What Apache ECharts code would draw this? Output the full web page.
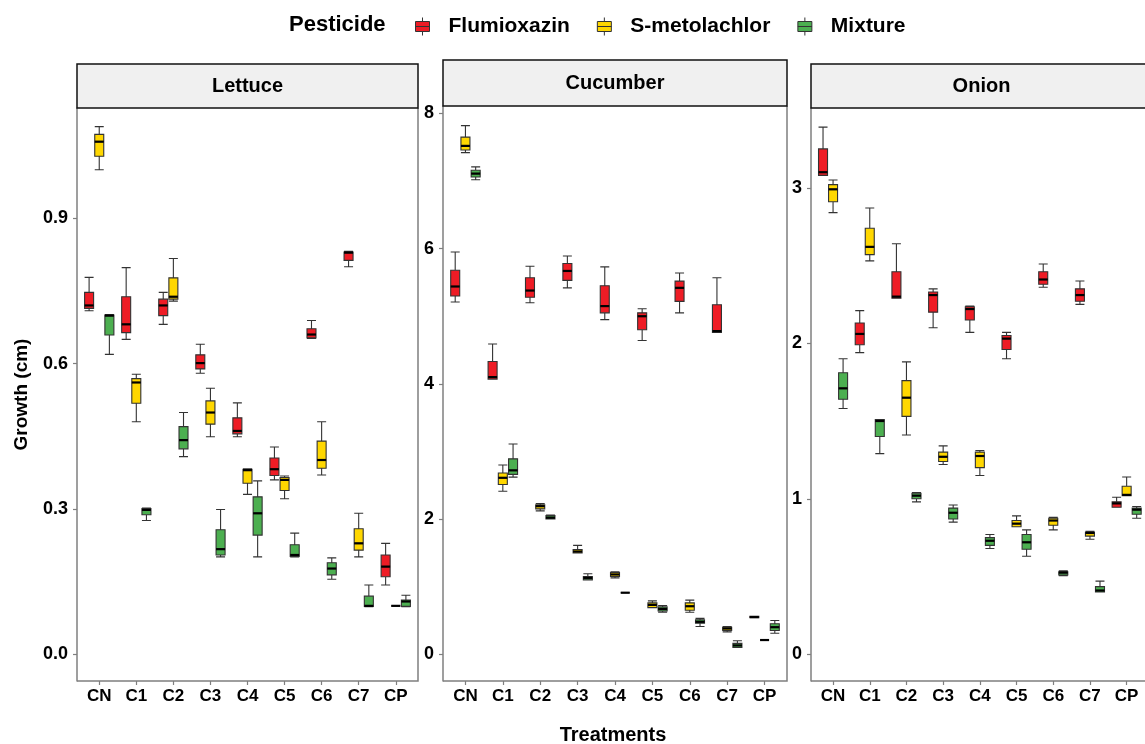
<!DOCTYPE html>
<html><head><meta charset="utf-8">
<script src="https://cdn.jsdelivr.net/npm/echarts@6/dist/echarts.min.js"></script>
<style>html,body{margin:0;padding:0;background:#fff}#c{width:1145px;height:744px}</style>
</head><body><div id="c"></div>
<script>
// ---------- data ----------
const treatments = ['CN','C1','C2','C3','C4','C5','C6','C7','CP'];
const pesticides = ['Flumioxazin','S-metolachlor','Mixture'];
const crops = ['Lettuce','Cucumber','Onion'];

const lettuceTicks = [0, 0.3, 0.6, 0.9];
const cucumberTicks = [0, 2, 4, 6, 8];
const onionTicks = [0, 1, 2, 3];

// each entry: [min, Q1, median, Q3, max]
const lettuceFlumioxazin = [[0.709,0.714,0.720,0.747,0.778],[0.650,0.664,0.681,0.738,0.798],[0.681,0.699,0.720,0.733,0.747],[0.580,0.589,0.601,0.618,0.640],[0.449,0.455,0.461,0.488,0.519],[0.360,0.369,0.382,0.405,0.428],[0.652,0.653,0.660,0.672,0.689],[0.800,0.813,0.829,0.830,0.832],[0.143,0.160,0.181,0.205,0.229]];
const lettuceSmetolachlor = [[1.000,1.028,1.058,1.073,1.089],[0.480,0.518,0.561,0.569,0.578],[0.729,0.733,0.738,0.777,0.817],[0.449,0.475,0.499,0.523,0.549],[0.330,0.353,0.380,0.382,0.383],[0.321,0.338,0.360,0.365,0.368],[0.370,0.384,0.401,0.440,0.480],[0.201,0.215,0.229,0.259,0.291],[0.100,0.100,0.100,0.100,0.100]];
const lettuceMixture = [[0.619,0.659,0.699,0.700,0.701],[0.276,0.288,0.298,0.301,0.302],[0.408,0.424,0.442,0.470,0.499],[0.201,0.205,0.217,0.257,0.299],[0.201,0.246,0.291,0.325,0.358],[0.201,0.202,0.205,0.226,0.250],[0.155,0.164,0.177,0.189,0.199],[0.098,0.099,0.100,0.120,0.143],[0.098,0.099,0.109,0.112,0.122]];

const cucumberFlumioxazin = [[5.21,5.30,5.44,5.68,5.95],[4.07,4.07,4.10,4.33,4.59],[5.20,5.28,5.38,5.57,5.74],[5.42,5.53,5.67,5.78,5.89],[4.95,5.05,5.15,5.45,5.73],[4.64,4.80,5.00,5.05,5.11],[5.05,5.22,5.42,5.52,5.64],[4.76,4.76,4.78,5.17,5.57],[0.54,0.54,0.55,0.56,0.56]];
const cucumberSmetolachlor = [[7.42,7.46,7.52,7.65,7.82],[2.41,2.51,2.61,2.68,2.80],[2.12,2.15,2.19,2.21,2.23],[1.50,1.50,1.52,1.55,1.61],[1.13,1.15,1.18,1.21,1.22],[0.69,0.69,0.73,0.76,0.79],[0.62,0.65,0.71,0.76,0.80],[0.33,0.35,0.38,0.40,0.41],[0.21,0.21,0.21,0.21,0.21]];
const cucumberMixture = [[7.02,7.06,7.11,7.16,7.21],[2.62,2.66,2.72,2.89,3.11],[2.00,2.00,2.02,2.05,2.06],[1.10,1.10,1.13,1.15,1.19],[0.91,0.91,0.91,0.91,0.91],[0.62,0.64,0.67,0.70,0.72],[0.41,0.46,0.48,0.51,0.53],[0.10,0.10,0.13,0.16,0.20],[0.31,0.35,0.40,0.45,0.50]];

const onionFlumioxazin = [[3.08,3.08,3.10,3.25,3.39],[1.94,1.99,2.06,2.13,2.21],[2.29,2.29,2.30,2.46,2.64],[2.10,2.20,2.31,2.33,2.35],[2.07,2.15,2.22,2.235,2.24],[1.90,1.96,2.03,2.05,2.07],[2.36,2.38,2.41,2.46,2.51],[2.25,2.27,2.31,2.35,2.40],[0.945,0.945,0.97,0.98,1.01]];
const onionSmetolachlor = [[2.84,2.91,2.99,3.02,3.05],[2.53,2.57,2.62,2.74,2.87],[1.41,1.53,1.65,1.76,1.88],[1.22,1.24,1.27,1.30,1.34],[1.15,1.20,1.275,1.30,1.31],[0.82,0.82,0.84,0.86,0.89],[0.80,0.83,0.86,0.875,0.88],[0.74,0.76,0.78,0.785,0.79],[1.02,1.02,1.025,1.08,1.14]];
const onionMixture = [[1.58,1.64,1.71,1.81,1.90],[1.29,1.40,1.50,1.51,1.51],[0.98,1.00,1.02,1.035,1.04],[0.85,0.87,0.91,0.94,0.96],[0.68,0.70,0.73,0.75,0.77],[0.63,0.675,0.72,0.77,0.80],[0.505,0.51,0.525,0.53,0.536],[0.40,0.40,0.41,0.435,0.47],[0.875,0.90,0.93,0.94,0.95]];

// ---------- layout / style ----------
const colors = ['#EE1C25', '#FFD700', '#4CAF50'];
const FONT = '"Liberation Sans", Arial, sans-serif';
const panels = [
  {name: crops[0], L: 77, R: 418, T: 108, B: 681, sT: 64, min: -0.0551, max: 1.1275, ticks: lettuceTicks, dec: 1,
   series: [lettuceFlumioxazin, lettuceSmetolachlor, lettuceMixture]},
  {name: crops[1], L: 443, R: 787, T: 106, B: 681, sT: 60, min: -0.396, max: 8.11, ticks: cucumberTicks, dec: 0,
   series: [cucumberFlumioxazin, cucumberSmetolachlor, cucumberMixture]},
  {name: crops[2], L: 811, R: 1152, T: 108, B: 681, sT: 64, min: -0.172, max: 3.513, ticks: onionTicks, dec: 0,
   series: [onionFlumioxazin, onionSmetolachlor, onionMixture]}
];
const AXC = '#7f7f7f';
const BOXW = 9;

// same dodge rule ECharts uses for boxplot series sharing a category axis
function dodgeOffset(bandWidth, k, n) {
  const avail = bandWidth * 0.8 - 2;
  const gap = avail / n * 0.3;
  const w = (avail - gap * (n - 1)) / n;
  return w / 2 - avail / 2 + k * (gap + w);
}

const grids = [], xAxes = [], yAxes = [], series = [], graphics = [];
panels.forEach((p, i) => {
  const unit = (p.R - p.L) / 9.2;
  const inset = unit * 0.1;
  grids.push({left: p.L + inset, width: unit * 9, top: p.T, height: p.B - p.T, containLabel: false});
  xAxes.push({
    type: 'category', gridIndex: i, data: treatments, boundaryGap: true,
    axisLine: {show: false, onZero: false},
    axisTick: {show: true, alignWithLabel: true, length: 4, lineStyle: {color: AXC, width: 1.2}},
    axisLabel: {interval: 0, margin: 7, color: '#000', fontWeight: 'bold', fontSize: 17, fontFamily: FONT},
    splitLine: {show: false}
  });
  yAxes.push({
    type: 'value', gridIndex: i, min: p.min, max: p.max, offset: inset,
    axisLine: {show: true, lineStyle: {color: AXC, width: 1.5}},
    axisTick: {show: true, length: 4, customValues: p.ticks, lineStyle: {color: AXC, width: 1.2}},
    axisLabel: {show: true, customValues: p.ticks, margin: 9, color: '#000', fontWeight: 'bold', fontSize: 18, fontFamily: FONT,
      formatter: v => Number(v).toFixed(p.dec)},
    splitLine: {show: false},
    name: i === 0 ? 'Growth (cm)' : '', nameLocation: 'middle', nameRotate: 90, nameGap: 46,
    nameTextStyle: {color: '#000', fontWeight: 'bold', fontSize: 19, fontFamily: FONT}
  });
  p.series.forEach((d, k) => {
    series.push({
      type: 'boxplot', name: pesticides[k], xAxisIndex: i, yAxisIndex: i,
      data: d, boxWidth: [BOXW, BOXW],
      itemStyle: {color: colors[k], borderColor: '#333', borderWidth: 1.1},
      emphasis: {disabled: true}
    });
  });
  // thick median bars, drawn from the same arrays
  p.series.forEach((d, k) => {
    series.push({
      type: 'custom', xAxisIndex: i, yAxisIndex: i, z: 5, silent: true,
      data: d.map((v, j) => [j, v[2]]),
      encode: {x: 0, y: 1},
      renderItem: (params, api) => {
        const c = api.coord([api.value(0), api.value(1)]);
        const bw = api.size([1, 0])[0];
        const cx = c[0] + dodgeOffset(bw, k, 3);
        return {type: 'line', shape: {x1: cx - BOXW / 2, y1: c[1], x2: cx + BOXW / 2, y2: c[1]},
                style: {stroke: '#000', lineWidth: 2.2}};
      }
    });
  });
  graphics.push({type: 'polyline', silent: true, z: 10,
    shape: {points: [[p.L, p.B], [p.R, p.B], [p.R, p.T]]},
    style: {stroke: AXC, lineWidth: 1.5, fill: null}});
  graphics.push({type: 'rect', silent: true, z: 10,
    shape: {x: p.L, y: p.sT, width: p.R - p.L, height: p.T - p.sT},
    style: {fill: '#F0F0F0', stroke: '#111', lineWidth: 1.5}});
  graphics.push({type: 'text', silent: true, z: 11,
    x: (p.L + p.R) / 2, y: (p.sT + p.T) / 2,
    style: {text: p.name, fill: '#000', font: 'bold 20px ' + FONT, align: 'center', verticalAlign: 'middle'}});
});

graphics.push({type: 'text', silent: true, x: 613, y: 735,
  style: {text: 'Treatments', fill: '#000', font: 'bold 20px ' + FONT, align: 'center', verticalAlign: 'middle'}});
graphics.push({type: 'text', silent: true, x: 289, y: 25,
  style: {text: 'Pesticide', fill: '#000', font: 'bold 22px ' + FONT, align: 'left', verticalAlign: 'middle'}});

const legendIcon = 'path://M8,0L8,4M8,14L8,18M1,4L15,4L15,14L1,14ZM1,9L15,9';
const option = {
  backgroundColor: '#fff',
  animation: false,
  grid: grids, xAxis: xAxes, yAxis: yAxes, series: series,
  legend: {
    data: pesticides.map((n, k) => ({name: n, icon: legendIcon,
      itemStyle: {color: colors[k], borderColor: '#333', borderWidth: 1}})),
    left: 415, top: 16, padding: 0, itemWidth: 16, itemHeight: 18, itemGap: 27,
    textStyle: {color: '#000', fontWeight: 'bold', fontSize: 21, fontFamily: FONT, padding: [0, 0, 0, 13]},
    selectedMode: false
  },
  graphic: graphics
};
const chart = echarts.init(document.getElementById('c'), null, {renderer: 'canvas'});
chart.setOption(option);
</script>
</body></html>
